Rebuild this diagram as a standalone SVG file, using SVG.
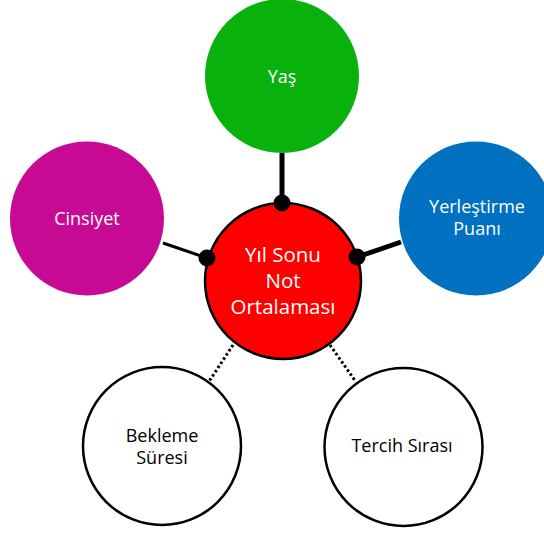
<svg xmlns="http://www.w3.org/2000/svg" width="544" height="533" viewBox="0 0 544 533">
<style>
text{font-family:"Open Sans",Lato,sans-serif;font-size:18px;text-anchor:middle}
.big{font-size:20.5px}
.w{fill:#ffffff}
.b{fill:#000000}
.solid{stroke:#000;fill:none}
.dot{stroke:#000;stroke-width:3;stroke-dasharray:2.5 2.5;fill:none}
.hub{fill:#000}
</style>
<g id="connectors">
<line class="solid" x1="282" y1="153" x2="282" y2="203" stroke-width="5"/>
<line class="solid" x1="163" y1="243" x2="207" y2="258" stroke-width="3"/>
<line class="solid" x1="357" y1="257" x2="401" y2="242" stroke-width="5"/>
<line class="dot" x1="233" y1="345" x2="208" y2="383"/>
<line class="dot" x1="330" y1="345" x2="356" y2="382"/>
</g>
<g id="yas">
<circle cx="282" cy="76" r="77" fill="#08B10B"/>
<text class="w" x="282" y="83">Yaş</text>
</g>
<g id="cinsiyet">
<circle cx="87" cy="218.5" r="77" fill="#C70A94"/>
<text class="w" x="87" y="225">Cinsiyet</text>
</g>
<g id="yerlestirme">
<circle cx="476" cy="218.5" r="77" fill="#0070C0"/>
<text class="w" x="477" y="213">Yerleştirme</text>
<text class="w" x="477" y="235">Puanı</text>
</g>
<g id="bekleme">
<circle cx="162" cy="446" r="79" fill="#ffffff" stroke="#000" stroke-width="2.5"/>
<text class="b" x="162" y="442">Bekleme</text>
<text class="b" x="162" y="464">Süresi</text>
</g>
<g id="tercih">
<circle cx="403.5" cy="447" r="79" fill="#ffffff" stroke="#000" stroke-width="2.5"/>
<text class="b" x="402" y="452">Tercih Sırası</text>
</g>
<g id="center">
<circle cx="283" cy="281" r="78" fill="#FF0000" stroke="#000" stroke-width="2.5"/>
<text class="w big" x="283" y="262">Yıl Sonu</text>
<text class="w big" x="283" y="288">Not</text>
<text class="w big" x="283" y="314">Ortalaması</text>
<circle class="hub" cx="282" cy="203" r="8.5"/>
<circle class="hub" cx="207" cy="258" r="8.5"/>
<circle class="hub" cx="357" cy="257" r="8.5"/>
</g>
</svg>
